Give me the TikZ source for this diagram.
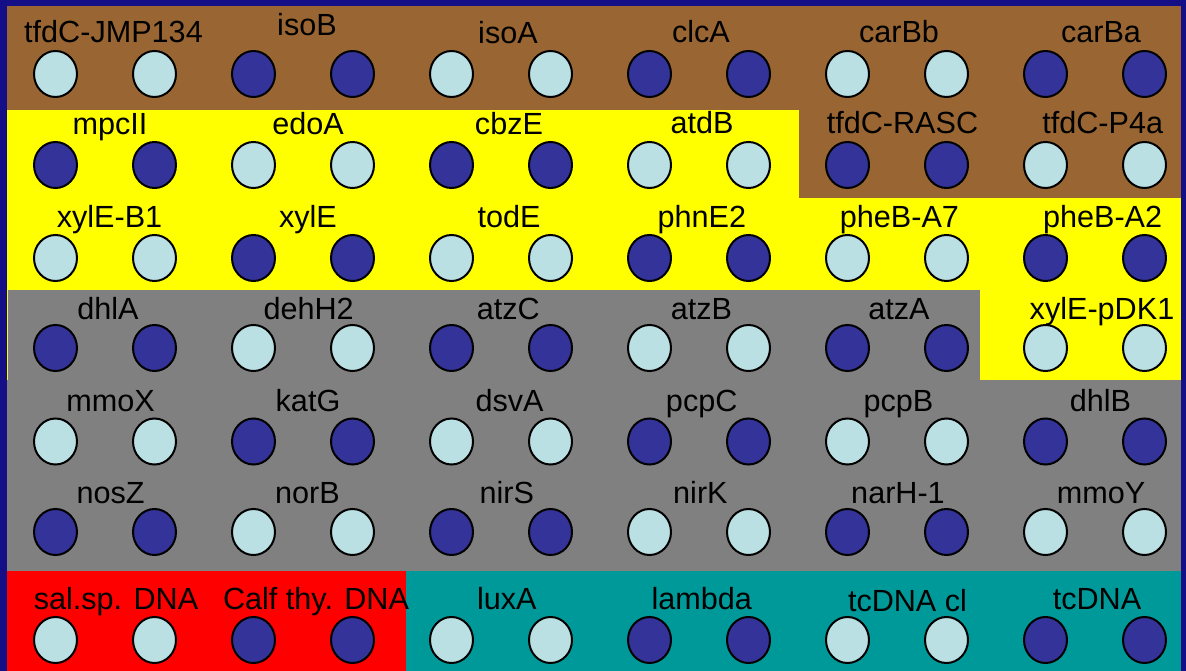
\documentclass[tikz,border=0pt]{standalone}
\usepackage{fontspec}
\setmainfont{Liberation Sans}
\usetikzlibrary{shapes.geometric}

\definecolor{navybg}{RGB}{20,15,135}
\definecolor{brownband}{RGB}{153,102,51}
\definecolor{yellowband}{RGB}{255,255,0}
\definecolor{greyband}{RGB}{128,128,128}
\definecolor{redband}{RGB}{255,0,0}
\definecolor{tealband}{RGB}{0,153,153}
\definecolor{lightc}{RGB}{187,224,227}
\definecolor{darkc}{RGB}{51,51,153}

\tikzset{
  spot/.style={ellipse, draw=black, line width=2pt, fill=#1,
    minimum width=43pt, minimum height=46pt, inner sep=0pt},
  lab/.style={font=\fontsize{30.6}{36}\selectfont, text=black,
    inner sep=0pt, anchor=base},
}

\begin{document}
\begin{tikzpicture}[x=1pt, y=-1pt]
\useasboundingbox (0,0) rectangle (1186,671);

% coloured bands
\fill[navybg] (0,0) rectangle (1186,671);
\fill[brownband] (7,6) rectangle (1181,110);
\fill[brownband] (799,110) rectangle (1181,198);
\fill[yellowband] (7,110) rectangle (799,198);
\fill[yellowband] (7,198) rectangle (1181,380);
\fill[greyband] (8,290) rectangle (980,380);
\fill[greyband] (7,380) rectangle (1181,571);
\fill[redband] (7,571) rectangle (406,671);
\fill[tealband] (406,571) rectangle (1181,671);

% dot pairs: each label has two dots, alternating light and dark
\foreach \r/\y in {0/74,1/165,2/258,3/348,4/441.5,5/532,6/640}{
  \foreach \c in {0,...,11}{
    \pgfmathtruncatemacro\pairidx{\c/2}
    \pgfmathtruncatemacro\shade{mod(\r+\pairidx,2)}
    \ifnum\shade=0 \def\dotfill{lightc}\else\def\dotfill{darkc}\fi
    \node[spot=\dotfill] (d\r-\c) at ({55.5+99*\c},\y) {};
  }
}

% row 1
\node[lab] (l0-0) at (113.5,43) {tfdC-JMP134};
\node[lab] (l0-1) at (307,36) {isoB};
\node[lab] (l0-2) at (508,44) {isoA};
\node[lab] (l0-3) at (701,43) {clcA};
\node[lab] (l0-4) at (899,43) {carBb};
\node[lab] (l0-5) at (1101,43) {carBa};
% row 2
\node[lab] (l1-0) at (110,135) {mpcII};
\node[lab] (l1-1) at (308,135) {edoA};
\node[lab] (l1-2) at (509,135) {cbzE};
\node[lab] (l1-3) at (702,134) {atdB};
\node[lab] (l1-4) at (902.5,134) {tfdC-RASC};
\node[lab] (l1-5) at (1102.7,134) {tfdC-P4a};
% row 3
\node[lab] (l2-0) at (109.5,228) {xylE-B1};
\node[lab] (l2-1) at (308,228) {xylE};
\node[lab] (l2-2) at (509,228) {todE};
\node[lab] (l2-3) at (701.8,228) {phnE2};
\node[lab] (l2-4) at (899.4,228) {pheB-A7};
\node[lab] (l2-5) at (1102.6,228) {pheB-A2};
% row 4
\node[lab] (l3-0) at (108,319) {dhlA};
\node[lab] (l3-1) at (308.6,319) {dehH2};
\node[lab] (l3-2) at (508.3,319) {atzC};
\node[lab] (l3-3) at (701.4,319) {atzB};
\node[lab] (l3-4) at (899,319) {atzA};
\node[lab] (l3-5) at (1102,319) {xylE-pDK1};
% row 5
\node[lab] (l4-0) at (110.6,411) {mmoX};
\node[lab] (l4-1) at (308,411) {katG};
\node[lab] (l4-2) at (509.6,411) {dsvA};
\node[lab] (l4-3) at (701.7,411) {pcpC};
\node[lab] (l4-4) at (898.4,411) {pcpB};
\node[lab] (l4-5) at (1100.5,411) {dhlB};
% row 6
\node[lab] (l5-0) at (110.6,503) {nosZ};
\node[lab] (l5-1) at (307.5,503) {norB};
\node[lab] (l5-2) at (506.8,503) {nirS};
\node[lab] (l5-3) at (700.4,503) {nirK};
\node[lab] (l5-4) at (898,503) {narH-1};
\node[lab] (l5-5) at (1101,503) {mmoY};
% row 7
\node[lab] (l6-0) at (116,609) {sal.sp. DNA};
\node[lab] (l6-1) at (316,609) {Calf thy. DNA};
\node[lab] (l6-2) at (506.8,609) {luxA};
\node[lab] (l6-3) at (701.7,609) {lambda};
\node[lab] (l6-4) at (907.5,611) {tcDNA cl};
\node[lab] (l6-5) at (1097,609) {tcDNA};
\end{tikzpicture}
\end{document}
